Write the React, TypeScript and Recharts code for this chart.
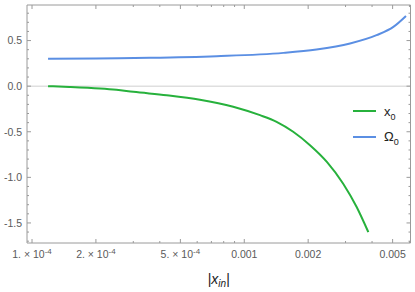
import React from 'react';
import { LineChart, Line, XAxis, YAxis, ReferenceLine, Legend, Label } from 'recharts';

// ---- data ----
const x0X = [1.19e-4, 1.5e-4, 2.09e-4, 2.5e-4, 3.0e-4, 4.31e-4, 6.18e-4, 8.87e-4, 1.186e-3, 1.42e-3, 1.7e-3, 2.04e-3, 2.45e-3, 2.92e-3, 3.38e-3, 3.84e-3];
const x0Y = [0.0, -0.008, -0.025, -0.04, -0.062, -0.099, -0.148, -0.225, -0.318, -0.391, -0.5, -0.647, -0.83, -1.067, -1.323, -1.6];
const omegaX = [1.19e-4, 2.0e-4, 3.6e-4, 7.41e-4, 1.53e-3, 2.19e-3, 3.15e-3, 4.2e-3, 5.04e-3, 5.78e-3];
const omegaY = [0.3, 0.304, 0.311, 0.329, 0.365, 0.402, 0.468, 0.559, 0.65, 0.77];

const xMajorTicks = [1e-4, 2e-4, 5e-4, 1e-3, 2e-3, 5e-3];
const xMajorMantissa = ['1.', '2.', '5.', '', '', ''];
const xMajorText = ['10', '10', '10', '0.001', '0.002', '0.005'];
const xMajorExp = ['-4', '-4', '-4', '', '', ''];
const xMinorTicks = [3e-4, 4e-4, 6e-4, 7e-4, 8e-4, 9e-4, 3e-3, 4e-3, 6e-3];
const xDomain = [9.47e-5, 6.07e-3];

const yMajorTicks = [-1.5, -1.0, -0.5, 0.0, 0.5];
const yMajorLabels = ['-1.5', '-1.0', '-0.5', '0.0', '0.5'];
const yMinorTicks = [-1.7, -1.6, -1.4, -1.3, -1.2, -1.1, -0.9, -0.8, -0.7, -0.6, -0.4, -0.3, -0.2, -0.1, 0.1, 0.2, 0.3, 0.4, 0.6, 0.7, 0.8];
const yDomain = [-1.72, 0.89];

const seriesNames = ['x', 'Ω'];

// ---- layout / style ----
const W = 415;
const H = 292;
const PLOT = { left: 27, top: 5, right: 410.5, bottom: 243 };
const FRAME = '#9a9a9a';
const TICK_TEXT = '#5a5a5a';
const GREEN = '#27b13c';
const BLUE = '#5b8fe3';
const FONT = '"Liberation Sans", Arial, sans-serif';

const x0Data = x0X.map((x, i) => ({ x, y: x0Y[i] }));
const omegaData = omegaX.map((x, i) => ({ x, y: omegaY[i] }));
const allXTicks = [...xMajorTicks, ...xMinorTicks].sort((a, b) => a - b);
const allYTicks = [...yMajorTicks, ...yMinorTicks].sort((a, b) => a - b);

const findX = (v: number) => xMajorTicks.findIndex((t) => Math.abs(t - v) / t < 1e-6);
const findY = (v: number) => yMajorTicks.findIndex((t) => Math.abs(t - v) < 1e-6);

const BottomTick = (props: any) => {
  const { x, payload } = props;
  const idx = findX(payload.value);
  const len = idx >= 0 ? 4 : 2;
  return (
    <g>
      <line x1={x} x2={x} y1={PLOT.bottom} y2={PLOT.bottom - len} stroke={FRAME} strokeWidth={1} />
      {idx >= 0 && (
        <text x={x} y={PLOT.bottom + 15} textAnchor="middle" fontSize={10.5} fill={TICK_TEXT} fontFamily={FONT}>
          {xMajorMantissa[idx] ? (
            <>
              <tspan>{xMajorMantissa[idx] + ' \u00d7 ' + xMajorText[idx]}</tspan>
              <tspan fontSize={8} dy={-4.5}>{xMajorExp[idx]}</tspan>
            </>
          ) : (
            <tspan>{xMajorText[idx]}</tspan>
          )}
        </text>
      )}
    </g>
  );
};

const TopTick = (props: any) => {
  const { x, payload } = props;
  const idx = findX(payload.value);
  const len = idx >= 0 ? 4 : 2;
  return <line x1={x} x2={x} y1={PLOT.top} y2={PLOT.top + len} stroke={FRAME} strokeWidth={1} />;
};

const LeftTick = (props: any) => {
  const { y, payload } = props;
  const idx = findY(payload.value);
  const len = idx >= 0 ? 4 : 2;
  return (
    <g>
      <line x1={PLOT.left} x2={PLOT.left + len} y1={y} y2={y} stroke={FRAME} strokeWidth={1} />
      {idx >= 0 && (
        <text x={PLOT.left - 5} y={y + 3.8} textAnchor="end" fontSize={10.5} fill={TICK_TEXT} fontFamily={FONT}>
          {yMajorLabels[idx]}
        </text>
      )}
    </g>
  );
};

const RightTick = (props: any) => {
  const { y, payload } = props;
  const idx = findY(payload.value);
  const len = idx >= 0 ? 4 : 2;
  return <line x1={PLOT.right} x2={PLOT.right - len} y1={y} y2={y} stroke={FRAME} strokeWidth={1} />;
};

const XLabel = (props: any) => {
  const vb = props.viewBox || { x: PLOT.left, y: PLOT.bottom, width: PLOT.right - PLOT.left };
  const cx = vb.x + vb.width / 2;
  return (
    <text x={cx} y={PLOT.bottom + 41} textAnchor="middle" fontFamily={FONT} fill="#222" fontSize={14}>
      <tspan>|</tspan>
      <tspan fontStyle="italic">x</tspan>
      <tspan fontStyle="italic" fontSize={10} dy={3}>in</tspan>
      <tspan dy={-3}>|</tspan>
    </text>
  );
};

const LegendContent = () => {
  const colors = [GREEN, BLUE];
  return (
    <div style={{ fontFamily: FONT }}>
      {seriesNames.map((n, i) => (
        <div key={n} style={{ display: 'flex', alignItems: 'center', height: 26 }}>
          <div style={{ width: 23, height: 2, background: colors[i], marginRight: 8 }} />
          <span style={{ fontSize: 13, color: '#222', position: 'relative', top: i === 0 ? 2 : 1 }}>
            {n}
            <sub style={{ fontSize: 9 }}>0</sub>
          </span>
        </div>
      ))}
    </div>
  );
};

export default function App() {
  return (
    <div style={{ position: 'absolute', left: 0, top: 0, width: W, height: H, background: '#fff' }}>
      <LineChart width={W} height={H} margin={{ top: 0, left: 0, right: 0, bottom: 0 }}>
        <XAxis
          xAxisId="b"
          dataKey="x"
          type="number"
          scale="log"
          domain={xDomain}
          allowDataOverflow
          ticks={allXTicks}
          interval={0}
          tick={<BottomTick />}
          tickLine={false}
          axisLine={{ stroke: FRAME }}
          height={H - PLOT.bottom}
        >
          <Label content={<XLabel />} />
        </XAxis>
        <XAxis
          xAxisId="t"
          orientation="top"
          dataKey="x"
          type="number"
          scale="log"
          domain={xDomain}
          allowDataOverflow
          ticks={allXTicks}
          interval={0}
          tick={<TopTick />}
          tickLine={false}
          axisLine={{ stroke: FRAME }}
          height={PLOT.top}
        />
        <YAxis
          yAxisId="l"
          type="number"
          domain={yDomain}
          allowDataOverflow
          ticks={allYTicks}
          interval={0}
          tick={<LeftTick />}
          tickLine={false}
          axisLine={{ stroke: FRAME }}
          width={PLOT.left}
        />
        <YAxis
          yAxisId="r"
          orientation="right"
          type="number"
          domain={yDomain}
          allowDataOverflow
          ticks={allYTicks}
          interval={0}
          tick={<RightTick />}
          tickLine={false}
          axisLine={{ stroke: FRAME }}
          width={W - PLOT.right}
        />
        <ReferenceLine xAxisId="b" yAxisId="l" y={0} stroke="#cfcfcf" strokeWidth={1} />
        <Line
          xAxisId="b"
          yAxisId="l"
          data={x0Data}
          dataKey="y"
          type="monotone"
          stroke={GREEN}
          strokeWidth={2}
          dot={false}
          isAnimationActive={false}
        />
        <Line
          xAxisId="b"
          yAxisId="l"
          data={omegaData}
          dataKey="y"
          type="monotone"
          stroke={BLUE}
          strokeWidth={2}
          dot={false}
          isAnimationActive={false}
        />
        <Legend
          layout="vertical"
          align="center"
          verticalAlign="middle"
          content={<LegendContent />}
          wrapperStyle={{ position: 'absolute', left: 353, top: 98, width: 60, bottom: 'auto', right: 'auto' }}
        />
      </LineChart>
    </div>
  );
}
